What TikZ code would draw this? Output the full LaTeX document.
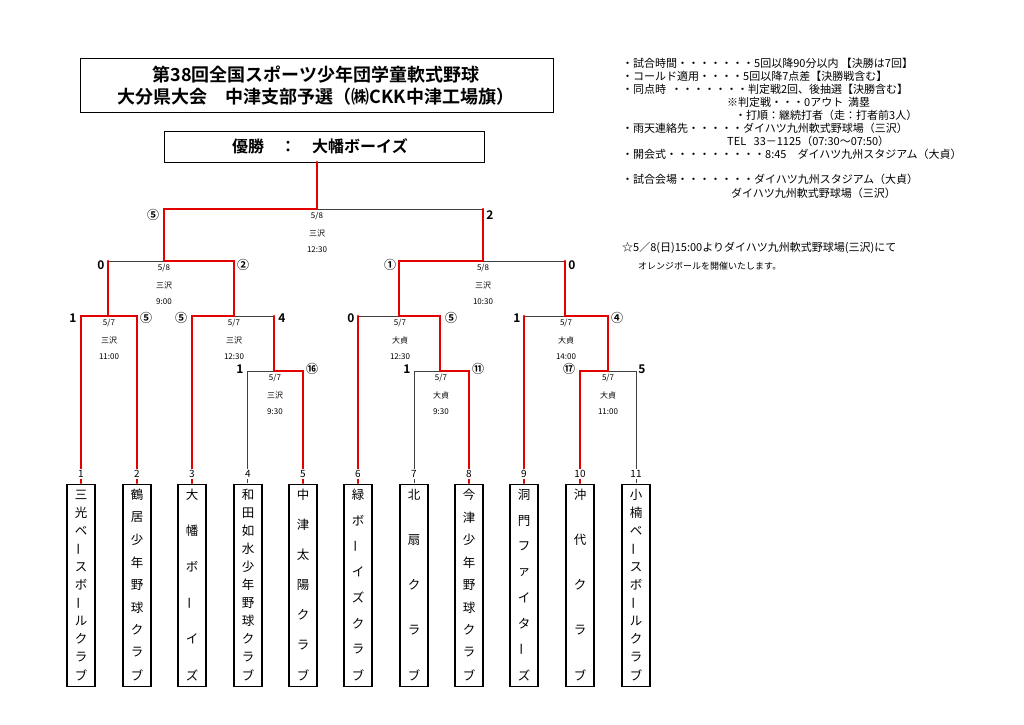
\documentclass[tikz,border=0pt]{standalone}
\usepackage{fontspec}
\setmainfont{Noto Sans CJK JP}
\newfontfamily\cjkb{Noto Sans CJK JP Bold}
\def\chobar{ー}
\begin{document}
\begin{tikzpicture}[x=1pt,y=-1pt,
  g/.style={draw=black!75,line width=0.8pt},
  r/.style={draw=red!90!black,line width=2.6pt,line cap=round},
  lab/.style={font=\fontsize{8}{9}\selectfont,inner sep=0},
  sc/.style={font=\cjkb\fontsize{12}{12}\selectfont,inner sep=0},
  note/.style={font=\fontsize{11}{11}\selectfont,anchor=west,inner sep=0},
  tbox/.style={draw,line width=1.2pt,minimum width=28pt,minimum height=202pt,anchor=north,inner sep=0},
  ch/.style={font=\fontsize{12.5}{13}\selectfont,inner sep=0}]
\useasboundingbox (0,0) rectangle (1024,724);
\fill[white] (0,0) rectangle (1024,724);
% title
\node[draw,line width=0.8pt,minimum width=473pt,minimum height=54pt,anchor=north west,inner sep=0] (title) at (80,58) {};
\node[font=\cjkb\fontsize{18}{22}\selectfont,align=center] (tt) at (316,86) {第38回全国スポーツ少年団学童軟式野球\\大分県大会\quad 中津支部予選（㈱CKK中津工場旗）};
\node[draw,line width=1pt,minimum width=320pt,minimum height=31pt,anchor=north west,inner sep=0] (win) at (164,131) {};
\node[font=\cjkb\fontsize{16}{16}\selectfont] (wt) at (320,146) {優勝\quad ：\quad 大幡ボーイズ};
% final
\draw[g] (317,209) -- (483,209);
\draw[r] (317,162) -- (317,209) -- (164,209) -- (164,261);
\draw[r] (483,209) -- (483,261);
% semi left
\draw[g] (108,261) -- (164,261);
\draw[r] (164,261) -- (234,261) -- (234,316);
\draw[r] (108,261) -- (108,316);
% semi right
\draw[g] (483,261) -- (565,261);
\draw[r] (483,261) -- (399,261) -- (399,316);
\draw[r] (565,261) -- (565,316);
% A
\draw[r] (81,483) -- (81,316) -- (137,316) -- (137,483);
% B
\draw[g] (234,316) -- (274,316);
\draw[r] (192,483) -- (192,316) -- (234,316);
\draw[r] (274,316) -- (274,371);
% C
\draw[g] (247,483) -- (247,371) -- (274,371);
\draw[r] (274,371) -- (303,371) -- (303,483);
% D
\draw[g] (358,316) -- (399,316);
\draw[r] (358,316) -- (358,483);
\draw[r] (399,316) -- (440,316) -- (440,371);
% E
\draw[g] (414,483) -- (414,371) -- (440,371);
\draw[r] (440,371) -- (469,371) -- (469,483);
% F
\draw[g] (524,316) -- (565,316);
\draw[r] (524,316) -- (524,483);
\draw[r] (565,316) -- (608,316) -- (608,371);
% G
\draw[g] (608,371) -- (636,371) -- (636,483);
\draw[r] (608,371) -- (580,371) -- (580,483);
% match labels
\foreach \x/\y/\d/\p/\t [count=\i] in {317/209/5\slash 8/三沢/12:30,164/261/5\slash 8/三沢/9:00,483/261/5\slash 8/三沢/10:30,109/316/5\slash 7/三沢/11:00,234/316/5\slash 7/三沢/12:30,275/371/5\slash 7/三沢/9:30,400/316/5\slash 7/大貞/12:30,441/371/5\slash 7/大貞/9:30,566/316/5\slash 7/大貞/14:00,608/371/5\slash 7/大貞/11:00}{
  \node[lab] (m\i a) at (\x,\y+7) {\d};
  \node[lab] (m\i b) at (\x,\y+24) {\p};
  \node[lab] (m\i c) at (\x,\y+41) {\t};
}
% scores
\foreach \x/\y/\s [count=\i] in {153/215/⑤,490/215/2,101/265/0,243/265/②,390/265/①,572/265/0,73/318/1,146/318/⑤,181/318/⑤,282/318/4,240/369/1,312/369/⑯,351/318/0,451/318/⑤,407/369/1,478/369/⑪,517/318/1,617/318/④,569/369/⑰,642/369/5}
  \node[sc] (s\i) at (\x,\y) {\s};
% teams
\foreach \x/\n/\names [count=\i] in {
 81/11/{三,光,ベ,ー,ス,ボ,ー,ル,ク,ラ,ブ},
 137/9/{鶴,居,少,年,野,球,ク,ラ,ブ},
 192/6/{大,幡,ボ,ー,イ,ズ},
 248/11/{和,田,如,水,少,年,野,球,ク,ラ,ブ},
 303/7/{中,津,太,陽,ク,ラ,ブ},
 358/8/{緑,ボ,ー,イ,ズ,ク,ラ,ブ},
 414/5/{北,扇,ク,ラ,ブ},
 469/9/{今,津,少,年,野,球,ク,ラ,ブ},
 524/8/{洞,門,フ,ァ,イ,タ,ー,ズ},
 580/5/{沖,代,ク,ラ,ブ},
 636/11/{小,楠,ベ,ー,ス,ボ,ー,ル,ク,ラ,ブ}}{
  \node[lab,font=\fontsize{10}{10}\selectfont,fill=white,inner sep=1pt] (n\i) at (\x,474) {\i};
  \node[tbox] (t\i) at (\x,484) {};
  \foreach \c [count=\k] in \names {
    \pgfmathsetmacro\yy{495+(\k-1)*180/(\n-1)}
    \ifx\c\chobar
      \node[ch,rotate=90] at (\x,\yy) {ー};
    \else
      \node[ch] at (\x,\yy) {\c};
    \fi
  }
}
% notes
\node[note] (n1) at (622,63) {・試合時間・・・・・・・5回以降90分以内 【決勝は7回】};
\node[note] (n2) at (622,76) {・コールド適用・・・・5回以降7点差【決勝戦含む】};
\node[note] (n3) at (622,89) {・同点時\ \ ・・・・・・・判定戦2回、後抽選【決勝含む】};
\node[note] (n4) at (727,102) {※判定戦・・・0アウト\ \ 満塁};
\node[note] (n5) at (735,115) {・打順：継続打者（走：打者前3人）};
\node[note] (n6) at (622,128) {・雨天連絡先・・・・・ダイハツ九州軟式野球場（三沢）};
\node[note] (n7) at (727,141) {TEL\ \ \ 33－1125（07:30～07:50）};
\node[note] (n8) at (622,154) {・開会式・・・・・・・・・8:45\quad ダイハツ九州スタジアム（大貞）};
\node[note] (n9) at (622,179) {・試合会場・・・・・・・ダイハツ九州スタジアム（大貞）};
\node[note] (n10) at (731,193) {ダイハツ九州軟式野球場（三沢）};
\node[note] (n11) at (622,248) {☆5／8(日)15:00よりダイハツ九州軟式野球場(三沢)にて};
\node[note,font=\fontsize{9}{10}\selectfont] (n12) at (638,266) {オレンジボールを開催いたします。};
\end{tikzpicture}
\end{document}
